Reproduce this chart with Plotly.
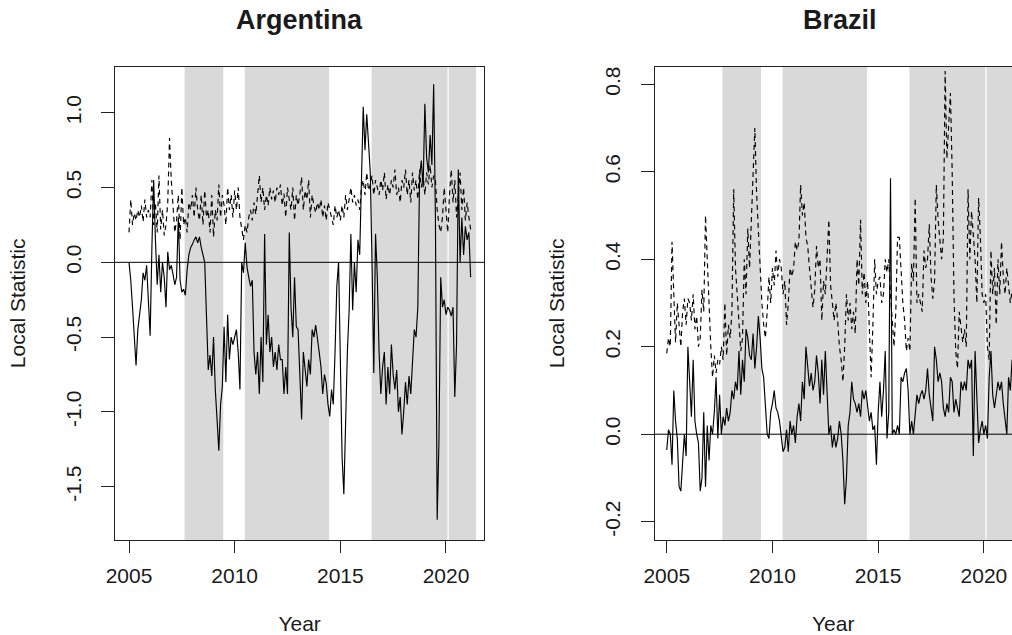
import plotly.graph_objects as go

# ---------------- data (monthly, starting Jan 2005) ----------------
start_year = 2005

arg_solid = (
    [0.0, -0.12, -0.3, -0.5, -0.69, -0.45, -0.36, -0.25, -0.07, -0.12, -0.02, -0.3] +
    [-0.49, 0.1, 0.55, 0.15, -0.15, 0.05, -0.2, 0.0, -0.1, -0.3, 0.07, -0.05] +
    [-0.02, -0.08, -0.15, -0.1, 0.3, -0.12, -0.2, -0.18, -0.22, -0.05, 0.05, 0.1] +
    [0.12, 0.15, 0.17, 0.13, 0.17, 0.1, 0.04, 0.0, -0.36, -0.72, -0.62, -0.76] +
    [-0.5, -0.85, -1.05, -1.26, -0.95, -0.83, -0.43, -0.8, -0.35, -0.65, -0.5, -0.55] +
    [-0.5, -0.45, -0.6, -0.85, 0.0, -0.07, 0.13, -0.03, -0.1, -0.16, -0.12, -0.6] +
    [-0.75, -0.6, -0.88, -0.5, -0.8, 0.19, -0.55, -0.35, -0.6, -0.5, -0.7, -0.6] +
    [-0.72, -0.55, -0.65, -0.65, -0.88, -0.7, -0.88, 0.2, -0.3, -0.5, -0.1, -0.43] +
    [-0.45, -0.75, -1.05, -0.6, -0.7, -0.83, -0.65, -0.75, -0.45, -0.5, -0.42, -0.5] +
    [-0.6, -0.7, -0.88, -0.75, -0.81, -0.95, -1.03, -0.85, -0.95, -0.6, -0.16, 0.0] +
    [-0.8, -1.3, -1.55, -0.99, -0.6, -0.32, 0.19, -0.32, 0.0, -0.2, 0.15, 0.05] +
    [0.6, 1.04, 0.75, 0.99, 0.8, 0.6, 0.0, -0.74, 0.19, -0.1, -0.6, -0.88] +
    [-0.7, -0.6, -0.95, -0.7, -0.88, -0.55, -0.75, -0.85, -0.72, -1.0, -0.9, -1.15] +
    [-1.0, -0.8, -0.95, -0.76, -0.88, -0.7, -0.45, -0.5, -0.3, 0.57, 0.68, 0.5] +
    [1.06, 0.7, 0.6, 0.85, 0.65, 1.19, 0.3, -1.72, -1.2, -0.1, -0.3, -0.25] +
    [-0.35, -0.3, -0.32, -0.36, -0.3, -0.9, -0.55, 0.62, 0.0, 0.3, 0.05, 0.24] +
    [0.15, 0.2, -0.1]
)

arg_dashed = (
    [0.2, 0.42, 0.25, 0.33, 0.28, 0.35, 0.3, 0.38, 0.27, 0.42, 0.3, 0.35] +
    [0.3, 0.55, 0.25, 0.4, 0.2, 0.58, 0.22, 0.35, 0.18, 0.25, 0.4, 0.83] +
    [0.55, 0.35, 0.2, 0.28, 0.45, 0.15, 0.5, 0.25, 0.3, 0.2, 0.4, 0.35] +
    [0.45, 0.3, 0.5, 0.35, 0.28, 0.45, 0.25, 0.48, 0.3, 0.35, 0.2, 0.45] +
    [0.17, 0.35, 0.28, 0.52, 0.3, 0.45, 0.38, 0.25, 0.5, 0.35, 0.45, 0.3] +
    [0.48, 0.35, 0.5, 0.3, 0.22, 0.15, 0.25, 0.2, 0.3, 0.35, 0.28, 0.4] +
    [0.32, 0.45, 0.58, 0.4, 0.5, 0.35, 0.45, 0.38, 0.5, 0.42, 0.48, 0.4] +
    [0.5, 0.45, 0.52, 0.38, 0.46, 0.3, 0.5, 0.42, 0.35, 0.5, 0.28, 0.45] +
    [0.38, 0.45, 0.57, 0.35, 0.48, 0.42, 0.55, 0.3, 0.45, 0.38, 0.33, 0.4] +
    [0.35, 0.42, 0.3, 0.38, 0.28, 0.4, 0.35, 0.32, 0.25, 0.38, 0.3, 0.35] +
    [0.28, 0.38, 0.3, 0.45, 0.35, 0.42, 0.5, 0.4, 0.45, 0.38, 0.42, 0.35] +
    [0.5, 0.55, 0.45, 0.6, 0.48, 0.52, 0.58, 0.45, 0.55, 0.5, 0.45, 0.55] +
    [0.48, 0.6, 0.42, 0.52, 0.45, 0.55, 0.5, 0.62, 0.45, 0.5, 0.4, 0.55] +
    [0.5, 0.62, 0.45, 0.55, 0.4, 0.6, 0.48, 0.55, 0.42, 0.62, 0.5, 0.58] +
    [0.45, 0.6, 0.52, 0.65, 0.5, 0.58, 0.55, 0.35, 0.25, 0.2, 0.3, 0.5] +
    [0.32, 0.2, 0.45, 0.62, 0.4, 0.55, 0.3, 0.45, 0.6, 0.35, 0.5, 0.28] +
    [0.4, 0.3, 0.22]
)

bra_solid = (
    [-0.036, 0.01, 0.0, -0.07, 0.1, 0.03, -0.01, -0.12, -0.13, -0.06, 0.0, -0.05] +
    [0.2, 0.12, 0.04, 0.17, 0.03, 0.0, -0.02, -0.13, -0.1, 0.05, -0.12, 0.02] +
    [-0.06, 0.02, 0.0, 0.05, 0.13, -0.01, 0.09, 0.0, 0.04, 0.02, 0.06, 0.03] +
    [0.05, 0.1, 0.08, 0.12, 0.1, 0.19, 0.09, 0.17, 0.12, 0.24, 0.22, 0.18] +
    [0.17, 0.23, 0.15, 0.2, 0.27, 0.22, 0.15, 0.13, 0.05, 0.0, -0.01, 0.05] +
    [0.07, 0.1, 0.06, 0.05, 0.03, 0.0, -0.04, -0.03, 0.01, -0.04, 0.03, 0.0] +
    [0.02, -0.02, 0.04, 0.07, 0.03, 0.12, 0.08, 0.2, 0.15, 0.11, 0.14, 0.1] +
    [0.12, 0.18, 0.14, 0.07, 0.17, 0.09, 0.19, 0.1, 0.0, 0.02, -0.03, 0.0] +
    [-0.03, -0.01, 0.03, 0.0, -0.06, -0.16, -0.1, 0.02, 0.05, 0.12, 0.08, 0.07] +
    [0.05, 0.07, 0.04, 0.1, 0.08, 0.1, 0.06, 0.03, 0.05, 0.01, 0.02, -0.07] +
    [0.05, 0.12, 0.04, 0.1, 0.19, -0.01, 0.05, 0.585, 0.0, 0.01, 0.0, 0.02] +
    [0.0, 0.13, 0.12, 0.14, 0.15, 0.1, 0.0, 0.03, 0.0, 0.05, 0.09, 0.07] +
    [0.09, 0.1, 0.08, 0.1, 0.15, 0.09, 0.06, 0.03, 0.2, 0.17, 0.12, 0.14] +
    [0.12, 0.06, 0.04, 0.07, 0.05, 0.13, 0.12, 0.05, 0.08, 0.06, 0.04, 0.12] +
    [0.1, 0.12, 0.1, 0.17, 0.15, 0.17, -0.05, 0.19, 0.1, -0.02, 0.01, 0.03] +
    [0.0, 0.02, -0.01, 0.13, 0.19, 0.09, 0.06, 0.09, 0.12, 0.1, 0.12, 0.07] +
    [0.03, 0.0, 0.13, 0.1, 0.17]
)

bra_dashed = (
    [0.185, 0.22, 0.2, 0.44, 0.32, 0.21, 0.3, 0.24, 0.2, 0.28, 0.31, 0.25] +
    [0.31, 0.3, 0.26, 0.32, 0.24, 0.27, 0.2, 0.22, 0.33, 0.28, 0.5, 0.4] +
    [0.28, 0.2, 0.13, 0.18, 0.14, 0.17, 0.16, 0.2, 0.17, 0.3, 0.18, 0.25] +
    [0.22, 0.28, 0.56, 0.38, 0.32, 0.25, 0.19, 0.22, 0.4, 0.32, 0.47, 0.38] +
    [0.48, 0.59, 0.7, 0.55, 0.46, 0.4, 0.3, 0.25, 0.22, 0.28, 0.36, 0.3] +
    [0.38, 0.34, 0.42, 0.36, 0.4, 0.38, 0.32, 0.35, 0.25, 0.3, 0.38, 0.36] +
    [0.38, 0.44, 0.42, 0.44, 0.57, 0.5, 0.53, 0.45, 0.43, 0.38, 0.33, 0.29] +
    [0.33, 0.43, 0.38, 0.4, 0.26, 0.35, 0.32, 0.42, 0.49, 0.34, 0.3, 0.26] +
    [0.3, 0.26, 0.2, 0.17, 0.12, 0.2, 0.32, 0.26, 0.3, 0.24, 0.28, 0.23] +
    [0.4, 0.34, 0.49, 0.32, 0.37, 0.3, 0.35, 0.22, 0.13, 0.25, 0.4, 0.32] +
    [0.35, 0.36, 0.3, 0.32, 0.4, 0.37, 0.4, 0.32, 0.26, 0.2, 0.28, 0.45] +
    [0.45, 0.36, 0.3, 0.26, 0.19, 0.22, 0.19, 0.39, 0.35, 0.54, 0.3, 0.32] +
    [0.3, 0.28, 0.42, 0.38, 0.4, 0.48, 0.36, 0.31, 0.35, 0.57, 0.49, 0.45] +
    [0.4, 0.45, 0.83, 0.63, 0.7, 0.78, 0.6, 0.32, 0.19, 0.15, 0.28, 0.25] +
    [0.21, 0.24, 0.2, 0.56, 0.4, 0.51, 0.45, 0.4, 0.3, 0.54, 0.45, 0.32] +
    [0.3, 0.32, 0.2, 0.17, 0.42, 0.32, 0.38, 0.25, 0.4, 0.32, 0.44, 0.36] +
    [0.32, 0.38, 0.34, 0.3, 0.33]
)

shade_periods = [(2007.63, 2009.46), (2010.48, 2014.47), (2016.48, 2020.07), (2020.13, 2021.42)]
x_ticks = [2005, 2010, 2015, 2020]
arg_yticks = [-1.5, -1.0, -0.5, 0.0, 0.5, 1.0]
bra_yticks = [-0.2, 0.0, 0.2, 0.4, 0.6, 0.8]
titles = ["Argentina", "Brazil"]
x_title = "Year"
y_title = "Local Statistic"


def months(vals):
    return [start_year + i / 12 for i in range(len(vals))]


W, H = 1012, 635
FONT = "Liberation Sans, Arial, sans-serif"
TXT = "#1a1a1a"
AX = "#222222"

fig = go.Figure()

line_solid = dict(color="black", width=1.15)
line_dash = dict(color="black", width=1.15, dash="5px,4px")

fig.add_trace(go.Scatter(x=months(arg_dashed), y=arg_dashed, mode="lines", line=line_dash,
                         xaxis="x", yaxis="y", showlegend=False, hoverinfo="skip"))
fig.add_trace(go.Scatter(x=months(arg_solid), y=arg_solid, mode="lines", line=line_solid,
                         xaxis="x", yaxis="y", showlegend=False, hoverinfo="skip"))
fig.add_trace(go.Scatter(x=months(bra_dashed), y=bra_dashed, mode="lines", line=line_dash,
                         xaxis="x2", yaxis="y2", showlegend=False, hoverinfo="skip"))
fig.add_trace(go.Scatter(x=months(bra_solid), y=bra_solid, mode="lines", line=line_solid,
                         xaxis="x2", yaxis="y2", showlegend=False, hoverinfo="skip"))

ydom = [1 - 540 / H, 1 - 66.7 / H]
xdom1 = [115 / W, 484.3 / W]
xdom2 = [654.5 / W, 1.0]

tick_font = dict(family=FONT, size=21, color=TXT)
common_x = dict(tickmode="array", tickvals=x_ticks, ticks="outside", ticklen=12, tickwidth=1,
                tickcolor=AX, showgrid=False, zeroline=False, showline=True, linecolor=AX,
                linewidth=1, mirror=True, tickfont=tick_font, ticklabelstandoff=5,
                automargin=False,
                title=dict(text=x_title, font=tick_font, standoff=31))
common_y = dict(tickmode="array", ticks="outside", ticklen=13, tickwidth=1, tickcolor=AX,
                showgrid=False, zeroline=False, showline=True, linecolor=AX, linewidth=1,
                tickangle=-90, tickfont=tick_font, ticklabelstandoff=12, automargin=False,
                title=dict(text=y_title, font=tick_font, standoff=30))

fig.update_layout(
    width=W, height=H, autosize=False,
    margin=dict(l=0, r=0, t=0, b=0, pad=0),
    paper_bgcolor="white", plot_bgcolor="white",
    xaxis=dict(domain=xdom1, range=[2004.337, 2021.813], anchor="y", **common_x),
    yaxis=dict(domain=ydom, range=[-1.856, 1.3075], anchor="x", mirror=True,
               tickvals=arg_yticks, ticktext=[f"{v:.1f}" for v in arg_yticks], **common_y),
    xaxis2=dict(domain=xdom2, range=[2004.421, 2021.329], anchor="y2", **common_x),
    yaxis2=dict(domain=ydom, range=[-0.2418, 0.840], anchor="x2", mirror=False,
                tickvals=bra_yticks, ticktext=[f"{v:.1f}" for v in bra_yticks], **common_y),
)

shapes = []
for xr, yr in (("x", "y"), ("x2", "y2")):
    for a, b in shade_periods:
        shapes.append(dict(type="rect", xref=xr, yref=f"{yr} domain", x0=a, x1=b, y0=0, y1=1,
                           fillcolor="#d9d9d9", line=dict(width=0), layer="below"))
    shapes.append(dict(type="line", xref=f"{xr} domain", yref=yr, x0=0, x1=1, y0=0, y1=0,
                       line=dict(color="black", width=1), layer="above"))
fig.update_layout(shapes=shapes)

annotations = []
centers = [(xdom1[0] + xdom1[1]) / 2, (654.5 + 1025) / 2 / W]
for title, cx in zip(titles, centers):
    annotations.append(dict(text=f"<b>{title}</b>", x=cx, y=1 - 20 / H, xref="paper", yref="paper",
                            xanchor="center", yanchor="middle", showarrow=False,
                            font=dict(family=FONT, size=27, color=TXT)))
fig.update_layout(annotations=annotations)

fig.write_html("out.html", config={"displayModeBar": False})
